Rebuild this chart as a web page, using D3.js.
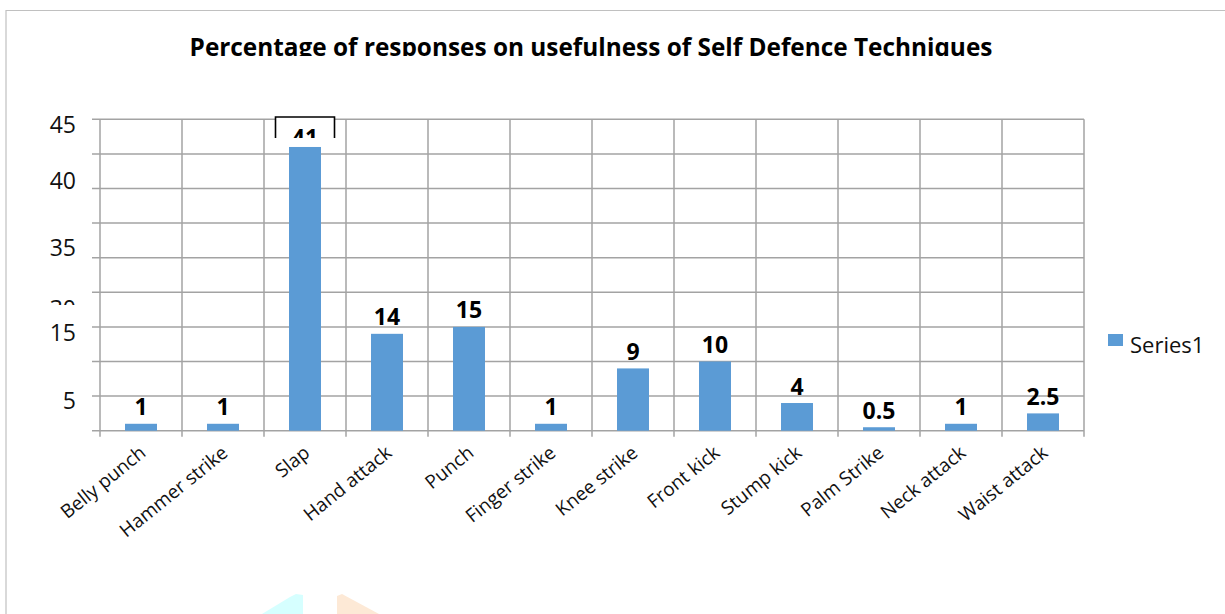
<!DOCTYPE html>
<html>
<head>
<meta charset="utf-8">
<script src="https://cdn.jsdelivr.net/npm/d3@7"></script>
<style>
  body { margin: 0; background: #fff; }
  svg { display: block; font-family: "Open Sans", sans-serif; }
</style>
</head>
<body>
<div id="chart"></div>
<script>
// data
var categories = ['Belly punch', 'Hammer strike', 'Slap', 'Hand attack', 'Punch', 'Finger strike',
    'Knee strike', 'Front kick', 'Stump kick', 'Palm Strike', 'Neck attack', 'Waist attack'];
var values = [1, 1, 41, 14, 15, 1, 9, 10, 4, 0.5, 1, 2.5];
var valueLabels = ['1', '1', '41', '14', '15', '1', '9', '10', '4', '0.5', '1', '2.5'];
var gridValues = [0, 5, 10, 15, 20, 25, 30, 35, 40, 45];
// the y labels in the source image sit off their gridlines
var yTickText = ['45', '40', '35', '30', '15', '5'];
var yTickAt = [44.2, 36.1, 26.5, 17.6, 14.1, 4.4];
var seriesName = 'Series1';
var title = 'Percentage of responses on usefulness of Self Defence Techniques';

var W = 1225, H = 614;
var plot = { left: 100, right: 1084, top: 119.3, bottom: 430.7 };
var barColor = '#5b9bd5', gridColor = '#a3a3a3';

var svg = d3.select('#chart').append('svg')
    .attr('width', W)
    .attr('height', H);

var x = d3.scaleBand()
    .domain(categories)
    .range([plot.left, plot.right])
    .paddingInner(0.61)
    .paddingOuter(0.305);

var y = d3.scaleLinear()
    .domain([0, 45])
    .range([plot.bottom, plot.top]);

var step = x.step();

// outer frame (top and left only)
svg.append('path')
    .attr('d', 'M6,614V10.5H1225')
    .attr('fill', 'none')
    .attr('stroke', '#c0c0c0')
    .attr('stroke-width', 1.2);

// title, cut off at the bottom like the source
var defs = svg.append('defs');
defs.append('clipPath').attr('id', 'titleClip')
    .append('rect').attr('x', 0).attr('y', 0).attr('width', W).attr('height', 56);

var t = svg.append('text')
    .attr('clip-path', 'url(#titleClip)')
    .attr('x', 591)
    .attr('y', 56)
    .attr('text-anchor', 'middle')
    .attr('font-weight', 'bold')
    .attr('font-size', 22)
    .text(title);
var tl = t.node().getComputedTextLength();
t.attr('font-size', 22 * 803 / tl);

// horizontal gridlines
svg.append('g').selectAll('line')
    .data(gridValues)
    .enter().append('line')
    .attr('x1', plot.left - 8)
    .attr('x2', plot.right)
    .attr('y1', d => y(d))
    .attr('y2', d => y(d))
    .attr('stroke', gridColor)
    .attr('stroke-width', 1.5);

// vertical gridlines at category boundaries
var bounds = categories.map(c => x(c) - (step - x.bandwidth()) / 2);
bounds.push(plot.right);
svg.append('g').selectAll('line')
    .data(bounds)
    .enter().append('line')
    .attr('x1', d => d)
    .attr('x2', d => d)
    .attr('y1', plot.top)
    .attr('y2', plot.bottom + 6)
    .attr('stroke', gridColor)
    .attr('stroke-width', 1.5);

// y labels
defs.append('clipPath').attr('id', 'ylabClip')
    .append('rect').attr('x', 0).attr('y', 0).attr('width', 95).attr('height', 305);

svg.append('g').selectAll('text')
    .data(yTickText)
    .enter().append('text')
    .attr('x', 76)
    .attr('y', (d, i) => y(yTickAt[i]))
    .attr('dy', '0.36em')
    .attr('text-anchor', 'end')
    .attr('font-size', 23)
    .attr('fill', '#111')
    .attr('clip-path', d => d === '30' ? 'url(#ylabClip)' : null)
    .text(d => d);

// bars
svg.append('g').selectAll('rect')
    .data(values)
    .enter().append('rect')
    .attr('x', (d, i) => x(categories[i]))
    .attr('y', d => y(d))
    .attr('width', x.bandwidth())
    .attr('height', d => plot.bottom - y(d))
    .attr('fill', barColor);

// white box with bracket around the "41" label
var si = valueLabels.indexOf('41');
var cx41 = x(categories[si]) + x.bandwidth() / 2;
svg.append('rect')
    .attr('x', cx41 - 29.5)
    .attr('y', 117)
    .attr('width', 59)
    .attr('height', 21)
    .attr('fill', '#fff');
svg.append('path')
    .attr('d', 'M' + (cx41 - 29.5) + ',138V117H' + (cx41 + 29.5) + 'V138')
    .attr('fill', 'none')
    .attr('stroke', '#000')
    .attr('stroke-width', 1.6);
defs.append('clipPath').attr('id', 'boxClip')
    .append('rect').attr('x', cx41 - 29).attr('y', 117).attr('width', 58).attr('height', 21);

// value labels
svg.append('g').selectAll('text')
    .data(values)
    .enter().append('text')
    .attr('x', (d, i) => x(categories[i]) + x.bandwidth() / 2)
    .attr('y', (d, i) => valueLabels[i] === '41' ? y(d) - 1 : y(d) - 8.5)
    .attr('text-anchor', 'middle')
    .attr('font-weight', 'bold')
    .attr('font-size', 23)
    .attr('fill', '#000')
    .attr('clip-path', (d, i) => valueLabels[i] === '41' ? 'url(#boxClip)' : null)
    .text((d, i) => valueLabels[i]);

// category labels, rotated
svg.append('g').selectAll('text')
    .data(categories)
    .enter().append('text')
    .attr('transform', d => 'translate(' + (x(d) + x.bandwidth() / 2 + 6) + ',' + 455 + ') rotate(-39)')
    .attr('text-anchor', 'end')
    .attr('font-size', 19)
    .attr('fill', '#111')
    .text(d => d);

// legend
var lg = svg.append('g').attr('transform', 'translate(1108,334)');
lg.append('rect')
    .attr('width', 15)
    .attr('height', 12)
    .attr('fill', barColor);
lg.append('text')
    .attr('x', 22)
    .attr('y', 19)
    .attr('font-size', 22)
    .attr('fill', '#111')
    .text(seriesName);

// faint watermark fragments at the bottom edge
svg.append('polygon')
    .attr('points', '262,614 290,597 296,594 303,595 303,614')
    .attr('fill', '#d6ffff');
svg.append('polygon')
    .attr('points', '337,614 337,596 342,594 379,614')
    .attr('fill', '#fde9d6');
</script>
</body>
</html>
